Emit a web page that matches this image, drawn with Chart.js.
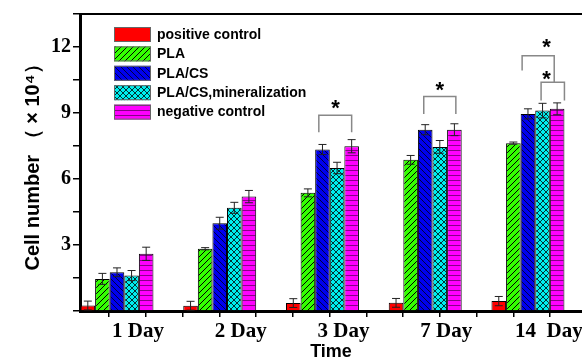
<!DOCTYPE html>
<html>
<head>
<meta charset="utf-8">
<script src="https://cdn.jsdelivr.net/npm/chart.js@4"></script>
<style>
  html, body { margin: 0; padding: 0; background: #fff; }
</style>
</head>
<body>
<canvas id="myChart" width="582" height="363"></canvas>
<script>
const days = ["1 Day", "2 Day", "3 Day", "7 Day", "14  Day"];
const groups = ["positive control", "PLA", "PLA/CS", "PLA/CS,mineralization", "negative control"];

const positive = [0.25, 0.24, 0.36, 0.37, 0.45];
const pla = [1.46, 2.83, 5.37, 6.87, 7.63];
const plaCs = [1.76, 3.99, 7.34, 8.24, 8.96];
const mineral = [1.61, 4.69, 6.5, 7.46, 9.11];
const negative = [2.6, 5.2, 7.49, 8.24, 9.19];

const positiveErr = [0.2, 0.2, 0.2, 0.2, 0.21];
const plaErr = [0.25, 0.05, 0.18, 0.2, 0.05];
const plaCsErr = [0.2, 0.27, 0.23, 0.23, 0.23];
const mineralErr = [0.23, 0.25, 0.26, 0.29, 0.33];
const negativeErr = [0.3, 0.28, 0.3, 0.27, 0.27];

const yLabels = [3, 6, 9, 12];

// significance brackets: bar positions are dataset indexes (fractions allowed)
const brackets = [
  { day: 2, from: 1.75, to: 4, top: 8.9, legA: 8.13, legB: 8.13, star: 9.35, starAt: 2.9 },
  { day: 3, from: 1.9, to: 4.1, top: 9.75, legA: 8.96, legB: 8.96, star: 10.17, starAt: 3.0 },
  { day: 4, from: 1.6, to: 3.8, top: 11.6, legA: 10.93, legB: 10.4, star: 12.15, starAt: 3.27 },
  { day: 4, from: 2.9, to: 4.5, top: 10.4, legA: 9.57, legB: 9.57, star: 10.7, starAt: 3.27 }
];

function makePattern(bg, kind, line) {
  const s = kind === 'horiz' ? 5 : 6;
  const c = document.createElement('canvas');
  c.width = s; c.height = s;
  const g = c.getContext('2d');
  g.fillStyle = bg;
  g.fillRect(0, 0, s, s);
  g.strokeStyle = line;
  g.lineWidth = 1;
  g.beginPath();
  if (kind === 'fwd' || kind === 'cross') {
    g.moveTo(0, s); g.lineTo(s, 0);
    g.moveTo(-1, 1); g.lineTo(1, -1);
    g.moveTo(s - 1, s + 1); g.lineTo(s + 1, s - 1);
  }
  if (kind === 'back' || kind === 'cross') {
    g.moveTo(0, 0); g.lineTo(s, s);
    g.moveTo(-1, s - 1); g.lineTo(1, s + 1);
    g.moveTo(s - 1, -1); g.lineTo(s + 1, 1);
  }
  if (kind === 'horiz') {
    g.moveTo(0, 0.5); g.lineTo(s, 0.5);
  }
  g.stroke();
  return g.createPattern(c, 'repeat');
}

const fills = [
  '#ff0000',
  makePattern('#33ff00', 'fwd', '#000000'),
  makePattern('#0000ee', 'back', '#000040'),
  makePattern('#00eeee', 'cross', '#003333'),
  makePattern('#ff00ff', 'horiz', '#880088')
];

const series = [positive, pla, plaCs, mineral, negative];
const errors = [positiveErr, plaErr, plaCsErr, mineralErr, negativeErr];

const datasets = series.map((vals, j) => ({
  label: groups[j],
  data: vals.map((v, i) => ({ x: i, y: v })),
  backgroundColor: fills[j],
  borderColor: '#000',
  borderWidth: 1,
  categoryPercentage: 0.71,
  barPercentage: 1,
  xAxisID: 'x',
  yAxisID: 'y'
}));

const errorBars = {
  id: 'errorBars',
  afterDatasetsDraw(chart) {
    const ctx = chart.ctx;
    const y = chart.scales.y;
    ctx.save();
    ctx.strokeStyle = '#222';
    ctx.lineWidth = 1;
    series.forEach((vals, j) => {
      const meta = chart.getDatasetMeta(j);
      meta.data.forEach((bar, i) => {
        const top = y.getPixelForValue(vals[i] + errors[j][i]);
        const bot = y.getPixelForValue(vals[i] - errors[j][i]);
        ctx.beginPath();
        ctx.moveTo(bar.x, top); ctx.lineTo(bar.x, bot);
        ctx.moveTo(bar.x - 4, top); ctx.lineTo(bar.x + 4, top);
        ctx.moveTo(bar.x - 4, bot); ctx.lineTo(bar.x + 4, bot);
        ctx.stroke();
      });
    });
    ctx.restore();
  }
};

function barX(chart, day, pos) {
  const pts = series.map((s, j) => chart.getDatasetMeta(j).data[day].x);
  const j = Math.max(0, Math.min(3, Math.floor(pos)));
  return pts[j] + (pos - j) * (pts[j + 1] - pts[j]);
}

const sigMarks = {
  id: 'sigMarks',
  afterDatasetsDraw(chart) {
    const ctx = chart.ctx;
    const y = chart.scales.y;
    ctx.save();
    brackets.forEach(b => {
      const xa = barX(chart, b.day, b.from);
      const xb = barX(chart, b.day, b.to);
      ctx.strokeStyle = '#888';
      ctx.lineWidth = 1.5;
      ctx.beginPath();
      ctx.moveTo(xa, y.getPixelForValue(b.legA));
      ctx.lineTo(xa, y.getPixelForValue(b.top));
      ctx.lineTo(xb, y.getPixelForValue(b.top));
      ctx.lineTo(xb, y.getPixelForValue(b.legB));
      ctx.stroke();
      ctx.fillStyle = '#000';
      ctx.font = 'bold 22px "Liberation Sans"';
      ctx.textAlign = 'center';
      ctx.textBaseline = 'middle';
      ctx.fillText('*', barX(chart, b.day, b.starAt), y.getPixelForValue(b.star) + 4);
    });
    ctx.restore();
  }
};

const frameAndLegend = {
  id: 'frameAndLegend',
  afterDraw(chart) {
    const ctx = chart.ctx;
    const area = chart.chartArea;
    ctx.save();
    ctx.strokeStyle = '#000';
    ctx.lineWidth = 2;
    ctx.beginPath();
    ctx.moveTo(area.left, area.top);
    ctx.lineTo(area.right, area.top);
    ctx.stroke();

    ctx.font = 'bold 14px "Liberation Sans"';
    ctx.textBaseline = 'middle';
    ctx.textAlign = 'left';
    groups.forEach((g, j) => {
      const bx = area.left + 34;
      const by = area.top + 13 + j * 19.4;
      ctx.fillStyle = fills[j];
      ctx.fillRect(bx, by, 37, 15);
      ctx.strokeStyle = '#666';
      ctx.lineWidth = 1;
      ctx.strokeRect(bx + 0.5, by + 0.5, 36, 14);
      ctx.fillStyle = '#000';
      ctx.fillText(g, bx + 43, by + 8);
    });
    ctx.restore();
  }
};

const config = {
  type: 'bar',
  data: { datasets: datasets },
  options: {
    responsive: false,
    animation: false,
    devicePixelRatio: 1,
    layout: { padding: { top: 14, left: 0, right: 0, bottom: 0 } },
    plugins: {
      legend: { display: false },
      tooltip: { enabled: false }
    },
    scales: {
      x: {
        type: 'linear',
        position: 'bottom',
        weight: 1,
        offset: false,
        min: -0.36,
        max: 4.526,
        afterBuildTicks: s => { s.ticks = days.map((d, i) => ({ value: i })); },
        afterFit: s => { s.height = 52; },
        grid: { display: false, drawTicks: false, offset: false },
        border: { display: true, color: '#000', width: 3 },
        ticks: {
          callback: v => days[v],
          labelOffset: 21,
          padding: 8,
          autoSkip: false,
          maxRotation: 0,
          color: '#000',
          font: { family: 'Liberation Serif', weight: 'bold', size: 21 }
        },
        title: {
          display: true,
          text: 'Time',
          color: '#000',
          padding: { top: 0, bottom: 0 },
          font: { family: 'Liberation Sans', weight: 'bold', size: 18 }
        }
      },
      x2: {
        type: 'linear',
        position: 'bottom',
        weight: 0,
        offset: false,
        min: -0.789,
        max: 12.87,
        afterFit: s => { s.height = 0; },
        ticks: { stepSize: 1, includeBounds: false, callback: () => '' },
        grid: { drawOnChartArea: false, drawTicks: true, tickLength: 6, color: '#000', lineWidth: 1.5, offset: false },
        border: { display: false }
      },
      y: {
        min: 0,
        max: 13.5,
        afterFit: s => { s.width = 80; },
        ticks: {
          stepSize: 1.5,
          autoSkip: false,
          padding: 2,
          color: '#000',
          callback: v => (yLabels.includes(v) ? String(v) : ''),
          font: { family: 'Liberation Serif', weight: 'bold', size: 20 }
        },
        grid: { drawOnChartArea: false, drawTicks: true, tickLength: 7, color: '#000', lineWidth: 1.5 },
        border: { display: true, color: '#000', width: 3 },
        title: {
          display: true,
          text: 'Cell number （ × 10⁴）',
          color: '#000',
          padding: { top: 21, bottom: 0 },
          font: { family: 'Liberation Sans', weight: 'bold', size: 20 }
        }
      }
    }
  },
  plugins: [errorBars, sigMarks, frameAndLegend]
};

const myChart = new Chart(document.getElementById('myChart'), config);
</script>
</body>
</html>
